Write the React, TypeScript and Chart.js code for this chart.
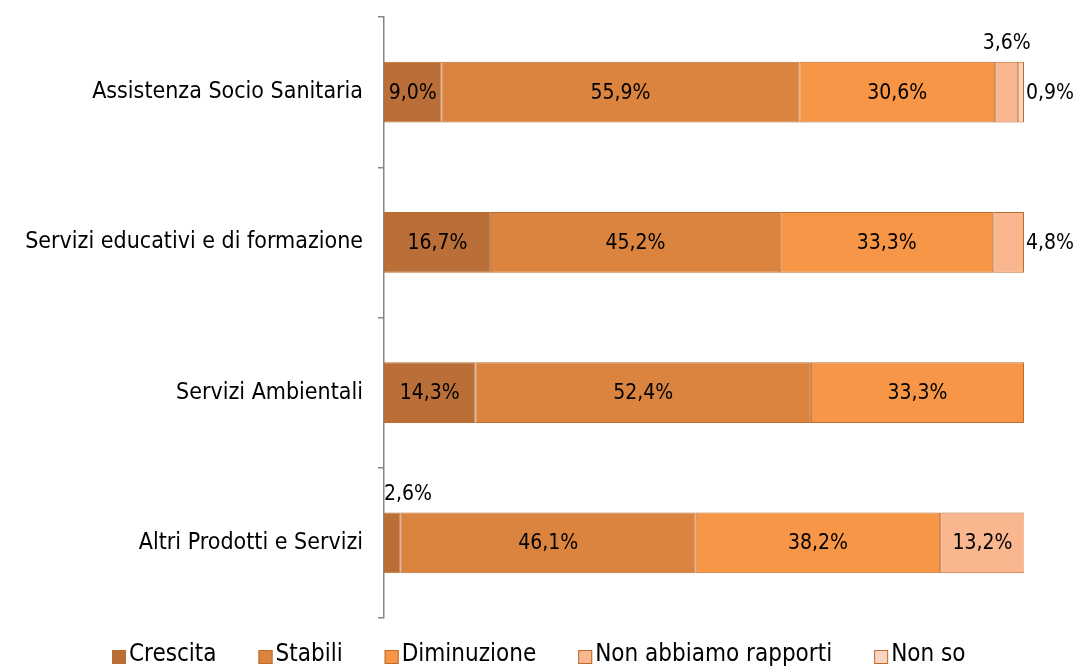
import React, { useEffect, useRef } from 'react';
import { Chart, registerables } from 'chart.js';

Chart.register(...registerables);

const categories = [
  'Assistenza Socio Sanitaria',
  'Servizi educativi e di formazione',
  'Servizi Ambientali',
  'Altri Prodotti e Servizi',
];
const seriesNames = ['Crescita', 'Stabili', 'Diminuzione', 'Non abbiamo rapporti', 'Non so'];
const crescita = [9.0, 16.7, 14.3, 2.6];
const stabili = [55.9, 45.2, 52.4, 46.1];
const diminuzione = [30.6, 33.3, 33.3, 38.2];
const nonAbbiamoRapporti = [3.6, 4.8, 0, 13.2];
const nonSo = [0.9, 0, 0, 0];
const seriesValues = [crescita, stabili, diminuzione, nonAbbiamoRapporti, nonSo];
const seriesColors = ['#B96F37', '#DA843F', '#F79646', '#FAB78F', '#FCD5C2'];
const borderCol = '#BE6C2C';

const FONT = "'DejaVu Sans Condensed', 'DejaVu Sans', sans-serif";

const fmt = (v: number) => v.toFixed(1).replace('.', ',') + '%';

const labelPlugin = {
  id: 'segLabels',
  afterDatasetsDraw(chart: any) {
    const ctx = chart.ctx;
    const area = chart.chartArea;
    ctx.save();
    ctx.font = `21px ${FONT}`;
    ctx.fillStyle = '#000';
    ctx.textBaseline = 'middle';
    const n = chart.data.labels.length;
    for (let i = 0; i < n; i++) {
      let last = -1;
      chart.data.datasets.forEach((ds: any, d: number) => {
        if (ds.data[i]) last = d;
      });
      chart.data.datasets.forEach((ds: any, d: number) => {
        const v = ds.data[i];
        if (!v) return;
        const el = chart.getDatasetMeta(d).data[i];
        const p = el.getProps(['x', 'base', 'y', 'height'], true);
        const left = Math.min(p.x, p.base);
        const right = Math.max(p.x, p.base);
        const text = fmt(v);
        const tw = ctx.measureText(text).width;
        const w = right - left;
        if (tw + 6 <= w) {
          ctx.textAlign = 'center';
          ctx.fillText(text, (left + right) / 2, p.y + 1);
        } else if (d === last) {
          ctx.textAlign = 'left';
          ctx.fillText(text, right + 2, p.y + 1);
        } else {
          let cx = (left + right) / 2;
          if (cx - tw / 2 < area.left) cx = area.left + tw / 2;
          ctx.textAlign = 'center';
          ctx.fillText(text, cx, p.y - p.height / 2 - 18);
        }
      });
    }
    ctx.restore();
  },
};

const legendPlugin = {
  id: 'customLegend',
  afterDraw(chart: any) {
    const ctx = chart.ctx;
    ctx.save();
    ctx.font = `24px ${FONT}`;
    ctx.textBaseline = 'middle';
    ctx.textAlign = 'left';
    const box = 14;
    const gapBoxText = 3;
    const gapItems = 42;
    const items = chart.data.datasets.map((ds: any) => ({
      text: ds.label,
      color: ds.backgroundColor,
      w: box + gapBoxText + ctx.measureText(ds.label).width,
    }));
    const total = items.reduce((s: number, it: any) => s + it.w, 0) + gapItems * (items.length - 1);
    let x = Math.round((chart.width - total) / 2) + 1;
    const cy = 655;
    items.forEach((it: any) => {
      ctx.fillStyle = it.color;
      ctx.fillRect(x, 650, box, box);
      ctx.strokeStyle = borderCol;
      ctx.lineWidth = 1;
      ctx.strokeRect(x + 0.5, 650.5, box - 1, box - 1);
      ctx.fillStyle = '#000';
      ctx.fillText(it.text, x + box + gapBoxText, cy);
      x += it.w + gapItems;
    });
    ctx.restore();
  },
};

export default function App() {
  const ref = useRef<HTMLCanvasElement | null>(null);
  useEffect(() => {
    document.body.style.margin = '0';
    const canvas = ref.current!;
    const chart = new Chart(canvas, {
      type: 'bar',
      data: {
        labels: categories,
        datasets: seriesNames.map((name, k) => ({
          label: name,
          data: seriesValues[k],
          backgroundColor: seriesColors[k],
          borderColor: borderCol,
          borderWidth: 1,
          borderSkipped: false,
          barPercentage: 0.405,
          categoryPercentage: 1,
        })),
      },
      options: {
        indexAxis: 'y',
        responsive: false,
        animation: false,
        devicePixelRatio: 1,
        layout: { padding: { top: 17, right: 51, bottom: 48, left: 0 } },
        plugins: {
          legend: { display: false },
          tooltip: { enabled: false },
        },
        scales: {
          x: {
            stacked: true,
            display: false,
            min: 0,
            max: 100,
          },
          y: {
            stacked: true,
            afterFit: (scale: any) => {
              scale.width = 384;
              scale.paddingTop = 0;
              scale.paddingBottom = 0;
            },
            grid: {
              drawOnChartArea: false,
              drawTicks: true,
              tickLength: 6,
              color: '#868686',
              lineWidth: 1.5,
            },
            border: { display: true, color: '#868686', width: 1.5 },
            ticks: {
              color: '#000',
              padding: 15,
              font: { family: FONT, size: 23 },
            },
          },
        },
      },
      plugins: [labelPlugin, legendPlugin],
    });
    return () => chart.destroy();
  }, []);
  return (
    <div style={{ position: 'fixed', left: 0, top: 0, width: 1075, height: 666, background: '#fff' }}>
      <canvas ref={ref} width={1075} height={666} style={{ width: 1075, height: 666 }} />
    </div>
  );
}
